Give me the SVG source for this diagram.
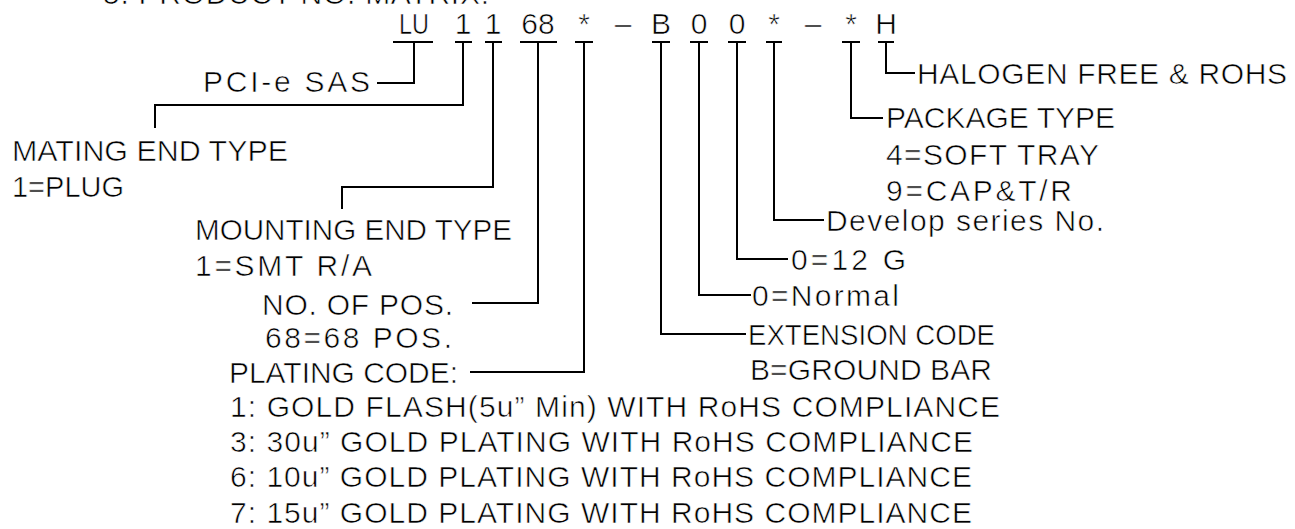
<svg xmlns="http://www.w3.org/2000/svg" width="1295" height="529" viewBox="0 0 1295 529">
<style>
text{font-family:"Liberation Sans",Arial,sans-serif;font-size:30px;fill:#000;stroke:#fff;stroke-width:0.6px;}
.c{text-anchor:middle;}
#connectors path,#connectors line{stroke:#000;stroke-width:2;fill:none;}
</style>
<rect width="1295" height="529" fill="#fff"/>
<g id="title"><text x="103" y="4" textLength="386" lengthAdjust="spacing">5. PRODUCT NO. MATRIX:</text></g>
<g id="code">
<text class="c" x="414" y="34" textLength="30" lengthAdjust="spacingAndGlyphs">LU</text>
<text class="c" x="463" y="34">1</text>
<text class="c" x="493" y="34">1</text>
<text class="c" x="538" y="34">68</text>
<text class="c" x="584" y="34">*</text>
<text class="c" x="623" y="34">–</text>
<text class="c" x="661" y="34">B</text>
<text class="c" x="699" y="34">0</text>
<text class="c" x="737" y="34">0</text>
<text class="c" x="774" y="34">*</text>
<text class="c" x="813" y="34">–</text>
<text class="c" x="851" y="34">*</text>
<text class="c" x="886" y="34">H</text>
</g>
<g id="connectors">
<line x1="393" y1="42" x2="433" y2="42"/>
<path d="M414 42V83H377"/>
<line x1="455" y1="42" x2="472" y2="42"/>
<path d="M463 42V105H155V128"/>
<line x1="485" y1="42" x2="502" y2="42"/>
<path d="M493 42V187H342V209"/>
<line x1="520" y1="42" x2="557" y2="42"/>
<path d="M538 42V303H472"/>
<line x1="575" y1="42" x2="593" y2="42"/>
<path d="M584 42V372H470"/>
<line x1="652" y1="42" x2="670" y2="42"/>
<path d="M661 42V334H746"/>
<line x1="690" y1="42" x2="708" y2="42"/>
<path d="M699 42V295H751"/>
<line x1="728" y1="42" x2="746" y2="42"/>
<path d="M737 42V259H788"/>
<line x1="766" y1="42" x2="782" y2="42"/>
<path d="M774 42V220H824"/>
<line x1="842" y1="42" x2="860" y2="42"/>
<path d="M851 42V118H883"/>
<line x1="878" y1="42" x2="894" y2="42"/>
<path d="M886 42V73H915"/>
</g>
<g id="pcie"><text x="203" y="92" textLength="167" lengthAdjust="spacing">PCI-e SAS</text></g>
<g id="mating"><text x="12" y="161" textLength="276" lengthAdjust="spacingAndGlyphs">MATING END TYPE</text><text x="12" y="197" textLength="112" lengthAdjust="spacingAndGlyphs">1=PLUG</text></g>
<g id="mounting"><text x="195" y="240" textLength="317" lengthAdjust="spacingAndGlyphs">MOUNTING END TYPE</text><text x="195" y="276" textLength="177" lengthAdjust="spacing">1=SMT R/A</text></g>
<g id="positions"><text x="262" y="315" textLength="191" lengthAdjust="spacing">NO. OF POS.</text><text x="265" y="348" textLength="187" lengthAdjust="spacing">68=68 POS.</text></g>
<g id="plating">
<text x="229" y="383" textLength="229" lengthAdjust="spacingAndGlyphs">PLATING CODE:</text>
<text x="230" y="417" textLength="770" lengthAdjust="spacing">1: GOLD FLASH(5u” Min) WITH RoHS COMPLIANCE</text>
<text x="230" y="452" textLength="743" lengthAdjust="spacing">3: 30u” GOLD PLATING WITH RoHS COMPLIANCE</text>
<text x="230" y="487" textLength="742" lengthAdjust="spacing">6: 10u” GOLD PLATING WITH RoHS COMPLIANCE</text>
<text x="230" y="523" textLength="742" lengthAdjust="spacing">7: 15u” GOLD PLATING WITH RoHS COMPLIANCE</text>
</g>
<g id="halogen"><text x="917" y="84" textLength="370" lengthAdjust="spacing">HALOGEN FREE &amp; ROHS</text></g>
<g id="package"><text x="886" y="128" textLength="229" lengthAdjust="spacingAndGlyphs">PACKAGE TYPE</text><text x="886" y="165" textLength="213" lengthAdjust="spacing">4=SOFT TRAY</text><text x="886" y="201" textLength="186" lengthAdjust="spacing">9=CAP&amp;T/R</text></g>
<g id="develop"><text x="826" y="231" textLength="278" lengthAdjust="spacing">Develop series No.</text></g>
<g id="g12"><text x="791" y="270" textLength="115" lengthAdjust="spacing">0=12 G</text></g>
<g id="normal"><text x="752" y="306" textLength="147" lengthAdjust="spacing">0=Normal</text></g>
<g id="extension"><text x="748" y="345" textLength="247" lengthAdjust="spacingAndGlyphs">EXTENSION CODE</text><text x="750" y="380" textLength="242" lengthAdjust="spacing">B=GROUND BAR</text></g>
</svg>
